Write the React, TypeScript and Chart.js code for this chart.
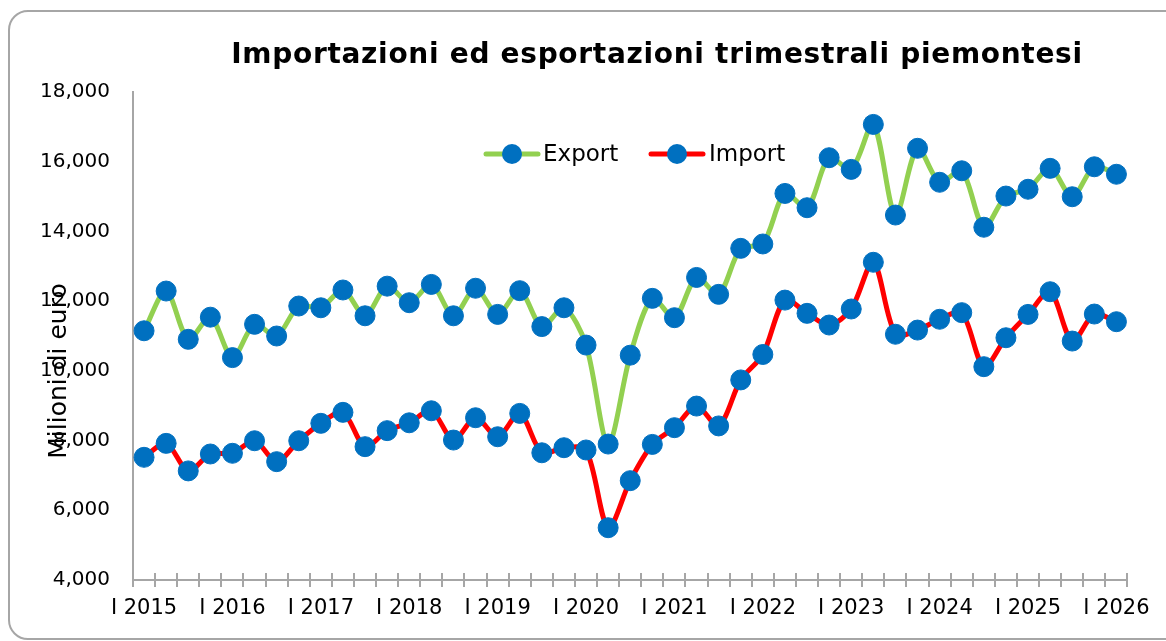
import { useEffect, useRef } from "react";
import { Chart, registerables } from "chart.js";

Chart.register(...registerables);

const TITLE = "Importazioni ed esportazioni trimestrali piemontesi";
const Y_TITLE = "Milioni di euro";

const quarters = [
  "I 2015", "II 2015", "III 2015", "IV 2015",
  "I 2016", "II 2016", "III 2016", "IV 2016",
  "I 2017", "II 2017", "III 2017", "IV 2017",
  "I 2018", "II 2018", "III 2018", "IV 2018",
  "I 2019", "II 2019", "III 2019", "IV 2019",
  "I 2020", "II 2020", "III 2020", "IV 2020",
  "I 2021", "II 2021", "III 2021", "IV 2021",
  "I 2022", "II 2022", "III 2022", "IV 2022",
  "I 2023", "II 2023", "III 2023", "IV 2023",
  "I 2024", "II 2024", "III 2024", "IV 2024",
  "I 2025", "II 2025", "III 2025", "IV 2025",
  "I 2026",
];

const exportValues = [
  11150, 12290, 10905, 11540,
  10380, 11335, 11000, 11860,
  11810, 12320, 11580, 12430,
  11955, 12480, 11580, 12370,
  11620, 12300, 11270, 11810,
  10740, 7900, 10450, 12080,
  11525, 12680, 12195, 13515,
  13640, 15090, 14680, 16115,
  15780, 17070, 14470, 16385,
  15410, 15740, 14120, 15015,
  15210, 15810, 14995, 15855,
  15640,
];

const importValues = [
  7520, 7920, 7130, 7615,
  7635, 7995, 7395, 7995,
  8495, 8810, 7825, 8285,
  8510, 8855, 8015, 8655,
  8110, 8780, 7650, 7795,
  7730, 5500, 6850, 7890,
  8370, 8990, 8420, 9740,
  10470, 12030, 11650, 11315,
  11775, 13115, 11050, 11170,
  11480, 11670, 10120, 10950,
  11620, 12270, 10855, 11630,
  11410,
];

const yTicks = [4000, 6000, 8000, 10000, 12000, 14000, 16000, 18000];

const seriesNames = ["Export", "Import"];
const lineColors = ["#92D050", "#FF0000"];
const markerColor = "#0070C0";
const axisColor = "#A6A6A6";
const FONT = '"DejaVu Sans", Verdana, sans-serif';

const decorPlugin = {
  id: "decor",
  afterDraw(chart: any) {
    const ctx = chart.ctx as CanvasRenderingContext2D;
    const { left, right, bottom } = chart.chartArea;
    ctx.save();

    // cross tick marks on x axis
    const n = quarters.length;
    ctx.strokeStyle = axisColor;
    ctx.lineWidth = 2;
    for (let i = 0; i <= n; i++) {
      const x = Math.round(left + (i * (right - left)) / n);
      ctx.beginPath();
      ctx.moveTo(x, bottom - 7);
      ctx.lineTo(x, bottom + 7);
      ctx.stroke();
    }

    // title
    ctx.fillStyle = "#000";
    ctx.font = `bold 28px ${FONT}`;
    (ctx as any).letterSpacing = "0.7px";
    ctx.textAlign = "center";
    ctx.textBaseline = "alphabetic";
    ctx.fillText(TITLE, 657, 63);
    (ctx as any).letterSpacing = "0px";

    // y axis title
    ctx.save();
    ctx.translate(66, 371);
    ctx.rotate(-Math.PI / 2);
    ctx.font = `25px ${FONT}`;
    ctx.textAlign = "center";
    ctx.textBaseline = "alphabetic";
    ctx.fillText(Y_TITLE, 0, 0);
    ctx.restore();

    // legend
    const items = [
      { cx: 512, tx: 543 },
      { cx: 677, tx: 709 },
    ];
    const ly = 154;
    items.forEach((it, k) => {
      ctx.strokeStyle = lineColors[k];
      ctx.lineWidth = 5;
      ctx.lineCap = "round";
      ctx.beginPath();
      ctx.moveTo(it.cx - 26, ly);
      ctx.lineTo(it.cx + 26, ly);
      ctx.stroke();
      ctx.fillStyle = markerColor;
      ctx.beginPath();
      ctx.arc(it.cx, ly, 10, 0, Math.PI * 2);
      ctx.fill();
      ctx.fillStyle = "#000";
      ctx.font = `23px ${FONT}`;
      ctx.textAlign = "left";
      ctx.textBaseline = "middle";
      ctx.fillText(seriesNames[k], it.tx, ly + 1);
    });

    ctx.restore();
  },
};

export default function App() {
  const canvasRef = useRef<HTMLCanvasElement | null>(null);

  useEffect(() => {
    const canvas = canvasRef.current;
    if (!canvas) return;
    const chart = new Chart(canvas, {
      type: "line",
      data: {
        labels: quarters,
        datasets: [
          {
            label: seriesNames[0],
            data: exportValues,
            borderColor: lineColors[0],
            borderWidth: 5,
            tension: 0.3,
            pointRadius: 10,
            pointBackgroundColor: markerColor,
            pointBorderColor: markerColor,
            pointBorderWidth: 1,
          },
          {
            label: seriesNames[1],
            data: importValues,
            borderColor: lineColors[1],
            borderWidth: 5,
            tension: 0.3,
            pointRadius: 10,
            pointBackgroundColor: markerColor,
            pointBorderColor: markerColor,
            pointBorderWidth: 1,
          },
        ],
      },
      options: {
        responsive: false,
        animation: false,
        events: [],
        layout: { padding: { left: 0, right: 37, top: 92, bottom: 0 } },
        plugins: {
          legend: { display: false },
          title: { display: false },
          tooltip: { enabled: false },
        },
        scales: {
          x: {
            type: "category",
            offset: true,
            grid: { display: false, drawTicks: false },
            border: { display: true, color: axisColor, width: 2 },
            ticks: {
              autoSkip: false,
              maxRotation: 0,
              minRotation: 0,
              padding: 16,
              color: "#000",
              font: { family: FONT, size: 21 },
              callback: (_v: any, i: number) => (i % 4 === 0 ? quarters[i] : ""),
            },
            afterFit: (s: any) => {
              s.height = 61;
            },
          },
          y: {
            min: yTicks[0],
            max: yTicks[yTicks.length - 1],
            afterBuildTicks: (s: any) => {
              s.ticks = yTicks.map((v) => ({ value: v }));
            },
            grid: { display: false, drawTicks: false },
            border: { display: true, color: axisColor, width: 2 },
            ticks: {
              padding: 23,
              color: "#000",
              font: { family: FONT, size: 20 },
              callback: (v: any) => Number(v).toLocaleString("en-US"),
            },
            afterFit: (s: any) => {
              s.width = 133;
            },
          },
        },
      },
      plugins: [decorPlugin],
    });
    return () => chart.destroy();
  }, []);

  return (
    <div
      style={{
        position: "fixed",
        left: 0,
        top: 0,
        width: 1166,
        height: 641,
        overflow: "hidden",
        background: "#fff",
      }}
    >
      <canvas
        ref={canvasRef}
        width={1166}
        height={641}
        style={{ position: "absolute", left: 0, top: 0, width: 1166, height: 641, display: "block" }}
      />
      <div
        style={{
          position: "absolute",
          left: 8,
          top: 10,
          width: 1185,
          height: 630,
          border: `2px solid ${axisColor}`,
          borderRadius: 20,
          boxSizing: "border-box",
          pointerEvents: "none",
        }}
      />
    </div>
  );
}
